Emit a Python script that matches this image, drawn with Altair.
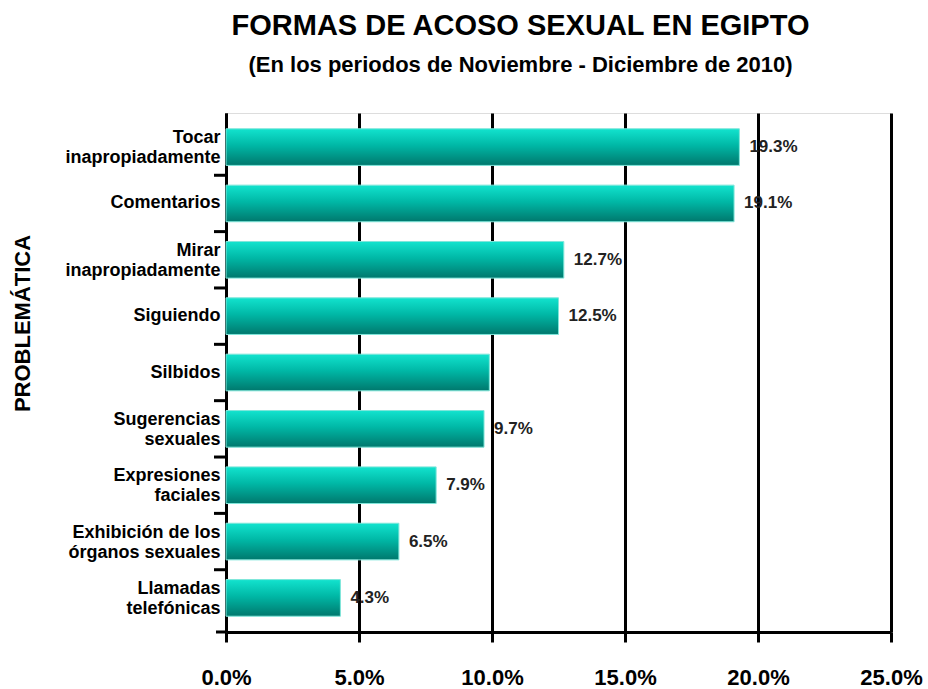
import altair as alt
import pandas as pd

categories = [
    "Tocar\ninapropiadamente",
    "Comentarios",
    "Mirar\ninapropiadamente",
    "Siguiendo",
    "Silbidos",
    "Sugerencias\nsexuales",
    "Expresiones\nfaciales",
    "Exhibición de los\nórganos sexuales",
    "Llamadas\ntelefónicas",
]
values = [19.3, 19.1, 12.7, 12.5, 9.9, 9.7, 7.9, 6.5, 4.3]
value_labels = ["19.3%", "19.1%", "12.7%", "12.5%", "", "9.7%", "7.9%", "6.5%", "4.3%"]
x_ticks = [0, 5, 10, 15, 20, 25]

df = pd.DataFrame({"cat": categories, "val": values, "lab": value_labels})

FONT = "Liberation Sans"
W, H = 665, 519
P_IN = 0.35
P_OUT = 0.28
STEP = H / (len(categories) - P_IN + 2 * P_OUT)

y_scale = alt.Scale(paddingInner=P_IN, paddingOuter=P_OUT)

y_enc = alt.Y(
    "cat:N",
    sort=categories,
    scale=y_scale,
    axis=alt.Axis(
        title="PROBLEMÁTICA",
        titleFont=FONT,
        titleFontSize=22,
        titleFontWeight="bold",
        titleColor="black",
        titleAngle=-90,
        titleX=-204,
        titleY=210,
        titleAlign="center",
        titleBaseline="middle",
        labelExpr="split(datum.label, '\\n')",
        labelFont=FONT,
        labelFontSize=18,
        labelFontWeight="bold",
        labelColor="black",
        labelLineHeight=20,
        labelPadding=6,
        labelOffset={"expr": "length(split(datum.value, '\\n')) > 1 ? -9 : 0"},
        ticks=False,
        domainColor="black",
        domainWidth=3,
        grid=False,
        labelLimit=300,
        zindex=0,
    ),
)

x_scale = alt.Scale(domain=[0, 25], nice=False)

bars = alt.Chart(df).mark_bar(
    color=alt.Gradient(
        gradient="linear",
        stops=[
            alt.GradientStop(color="#12E3CE", offset=0),
            alt.GradientStop(color="#00B8A6", offset=0.45),
            alt.GradientStop(color="#00786D", offset=1),
        ],
        x1=0, x2=0, y1=0, y2=1,
    ),
    stroke="#7FE6DA",
    strokeWidth=1,
).encode(
    x=alt.X(
        "val:Q",
        scale=x_scale,
        axis=alt.Axis(
            title=None,
            values=x_ticks,
            labelExpr="format(datum.value, '.1f') + '%'",
            labelFont=FONT,
            labelFontSize=22,
            labelFontWeight="bold",
            labelColor="black",
            labelPadding=25,
            labelFlush=False,
            tickSize=10,
            tickWidth=3,
            tickColor="black",
            domainColor="black",
            domainWidth=3,
            grid=True,
            gridColor="black",
            gridWidth=3,
            gridOpacity=1,
        ),
    ),
    y=y_enc,
)

text = alt.Chart(df).mark_text(
    align="left",
    baseline="middle",
    dx=10,
    font=FONT,
    fontSize=17,
    fontWeight="bold",
    color="#222222",
).encode(
    x=alt.X("val:Q", scale=x_scale),
    y=alt.Y("cat:N", sort=categories, axis=None),
    text="lab:N",
)

# category separator ticks on the left axis (between bands, and at the bottom edge)
sep_ticks = alt.Chart(df).transform_filter(
    alt.FieldOneOfPredicate(field="cat", oneOf=categories[:-1])
).mark_rule(color="black", strokeWidth=3, yOffset=STEP * P_IN / 2).encode(
    y=alt.Y("cat:N", sort=categories, bandPosition=1, axis=None),
    x=alt.value(-12),
    x2=alt.value(0),
)

end_tick = alt.Chart(df).transform_filter(
    alt.FieldEqualPredicate(field="cat", equal=categories[-1])
).mark_rule(color="black", strokeWidth=3, yOffset=STEP * P_OUT).encode(
    y=alt.Y("cat:N", sort=categories, bandPosition=1, axis=None),
    x=alt.value(-10),
    x2=alt.value(0),
)

chart = (
    alt.layer(bars, text, sep_ticks, end_tick)
    .resolve_axis(y="independent")
    .properties(
        width=W,
        height=H,
        autosize=alt.AutoSizeParams(type="none"),
        padding={"left": 226, "top": 113, "right": 37, "bottom": 57},
        title=alt.TitleParams(
            text="FORMAS DE ACOSO SEXUAL EN EGIPTO",
            subtitle="(En los periodos de Noviembre - Diciembre de 2010)",
            font=FONT,
            fontSize=29,
            fontWeight="bold",
            color="black",
            subtitleFont=FONT,
            subtitleFontSize=22,
            subtitleFontWeight="bold",
            subtitleColor="black",
            subtitlePadding=14,
            anchor="middle",
            frame="group",
            dx=-38,
            offset=37,
        ),
    )
    .configure_view(stroke=None)
    .configure(background="white")
)

chart.save("out.html", embed_options={"renderer": "svg", "actions": False})
